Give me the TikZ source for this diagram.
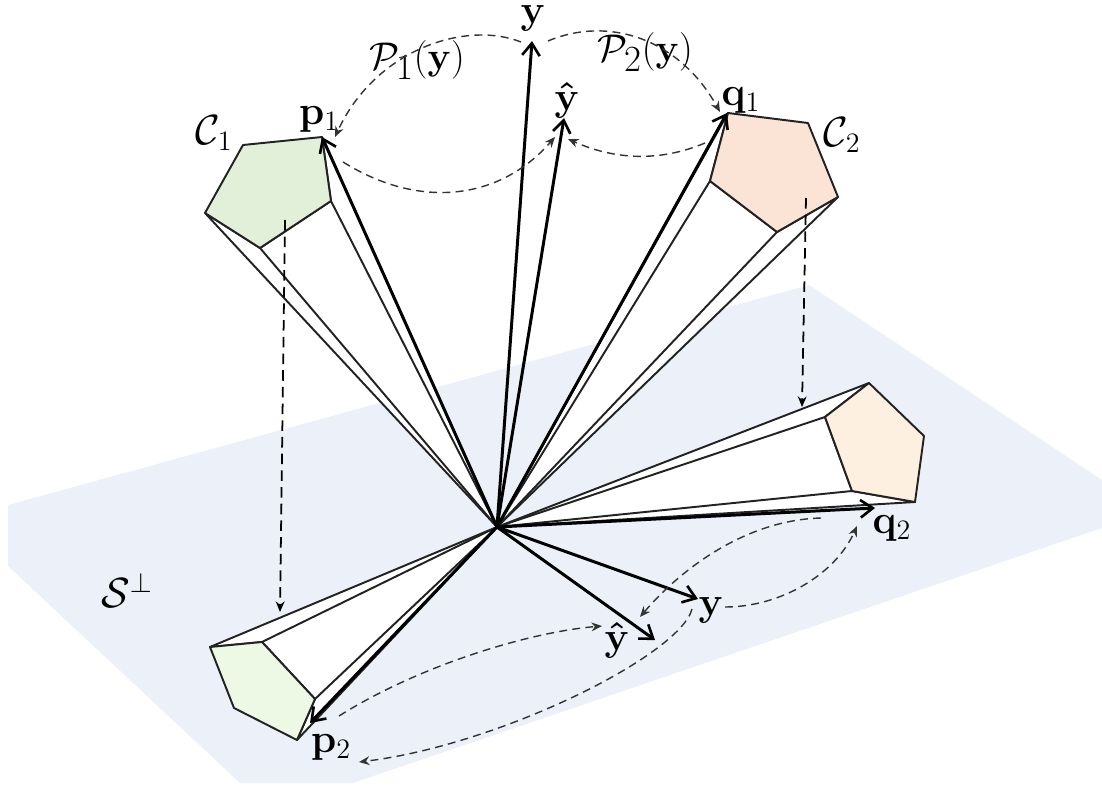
\RequirePackage{fix-cm}
\documentclass[tikz,border=0pt]{standalone}
\usepackage{amsmath}
\usepackage{xcolor}
\usetikzlibrary{arrows.meta}
\DeclareMathSizes{23}{23}{16}{11}
\DeclareMathSizes{24}{24}{16}{12}
\DeclareMathSizes{22}{22}{21}{16}
\definecolor{planeblue}{HTML}{EBF0F9}
\definecolor{upgreen}{HTML}{E2EFD9}
\definecolor{upsalmon}{HTML}{FBE4D5}
\definecolor{lowgreen}{HTML}{EDF9E4}
\definecolor{loworange}{HTML}{FEF0E1}
\definecolor{darkline}{HTML}{222222}
\tikzset{
  cone/.style={draw=darkline, line width=1.1pt, fill=white, line join=round},
  rim/.style={draw=darkline, line width=1.1pt, line join=round},
  vec/.style={-{Straight Barb[length=7pt,width=10pt,line width=1.5pt]}, line width=1.7pt, black},
  proj/.style={-{Stealth[length=6pt,width=5pt]}, dash pattern=on 4.5pt off 3pt, line width=0.8pt, black!80},
  drop/.style={-{Stealth[length=6pt,width=5pt]}, dash pattern=on 6pt off 3.5pt, line width=1.0pt, black},
  lab/.style={inner sep=0pt, font=\fontsize{23}{26}\selectfont},
  callab/.style={inner sep=0pt, font=\fontsize{24}{27}\selectfont},
  projlab/.style={inner sep=0pt, font=\fontsize{22}{25}\selectfont}
}
\begin{document}
\begin{tikzpicture}[x=0.02cm,y=-0.02cm]
\useasboundingbox (0,0) rectangle (1102,787);
\fill[planeblue] (8,505) -- (809,285) -- (1102,480) -- (1102,528) -- (353,783) -- (240,783) -- (8,566) -- cycle;

\coordinate (o) at (497,527);
% upper pentagons
\coordinate (a1) at (243,145); \coordinate (a2) at (322,137); \coordinate (a3) at (331,201);
\coordinate (a4) at (260,248); \coordinate (a5) at (205,213);
\coordinate (b1) at (728,113); \coordinate (b2) at (808,123); \coordinate (b3) at (838,197);
\coordinate (b4) at (777,232); \coordinate (b5) at (710,181);
% lower pentagons
\coordinate (c1) at (210,647); \coordinate (c2) at (262,642); \coordinate (c3) at (315,699);
\coordinate (c4) at (297,740); \coordinate (c5) at (234,708);
\coordinate (d1) at (869,383); \coordinate (d2) at (924,436); \coordinate (d3) at (915,502);
\coordinate (d4) at (852,491); \coordinate (d5) at (825,417);

\path[cone] (o) -- (a5) -- (a4) -- (a3) -- (a2) -- cycle;
\draw[rim] (o) -- (a4) (o) -- (a3);
\path[cone] (o) -- (b1) -- (b5) -- (b4) -- (b3) -- cycle;
\draw[rim] (o) -- (b5) (o) -- (b4);
\path[cone] (o) -- (c1) -- (c2) -- (c3) -- (c4) -- cycle;
\draw[rim] (o) -- (c2) (o) -- (c3);
\path[cone] (o) -- (d1) -- (d5) -- (d4) -- (d3) -- cycle;
\draw[rim] (o) -- (d5) (o) -- (d4);

\draw[rim, fill=upgreen] (a1) -- (a2) -- (a3) -- (a4) -- (a5) -- cycle;
\draw[rim, fill=upsalmon] (b1) -- (b2) -- (b3) -- (b4) -- (b5) -- cycle;
\draw[rim, fill=lowgreen] (c1) -- (c2) -- (c3) -- (c4) -- (c5) -- cycle;
\draw[rim, fill=loworange] (d1) -- (d2) -- (d3) -- (d4) -- (d5) -- cycle;

\coordinate (ytip) at (532,41); \coordinate (hattip) at (564,118);
\coordinate (p1tip) at (322,137); \coordinate (q1tip) at (727,113);
\coordinate (p2tip) at (310,723); \coordinate (q2tip) at (875,508);
\coordinate (ylow) at (698,599); \coordinate (hatlow) at (655,640);

\draw[vec] (o) -- (ytip);
\draw[vec] (o) -- (hattip);
\draw[vec] (o) -- (p1tip);
\draw[vec] (o) -- (q1tip);
\draw[vec] (o) -- (p2tip);
\draw[vec] (o) -- (q2tip);
\draw[vec] (o) -- (ylow);
\draw[vec] (o) -- (hatlow);

\node[lab] (ytop) at (533,18) {$\mathbf{y}$};
\node[lab] (yhat) at (567,100) {$\boldsymbol{\hat{\mathbf{y}}}$};
\node[lab] (p1) at (319,119) {$\mathbf{p}_1$};
\node[lab] (q1) at (741,100) {$\mathbf{q}_1$};
\node[callab] (c1lab) at (214,133) {$\mathcal{C}_1$};
\node[callab] (c2lab) at (842,135) {$\mathcal{C}_2$};
\node[projlab] (proj1) at (417,60) {$\mathcal{P}_1(\mathbf{y})$};
\node[projlab] (proj2) at (645,52) {$\mathcal{P}_2(\mathbf{y})$};
\node[callab] (perp) at (127,590) {$\mathcal{S}^{\perp}$};
\node[lab] (q2) at (892,528) {$\mathbf{q}_2$};
\node[lab] (p2) at (331,747) {$\mathbf{p}_2$};
\node[lab] (ylab) at (711,610) {$\mathbf{y}$};
\node[lab] (yhatlab) at (617,640) {$\boldsymbol{\hat{\mathbf{y}}}$};

% projection arcs
\coordinate (s1) at (521,42); \coordinate (e1) at (335,137);
\coordinate (s2) at (548,41); \coordinate (e2) at (720,112);
\coordinate (s3) at (343,162); \coordinate (e3) at (555,137);
\coordinate (s4) at (705,143); \coordinate (e4) at (568,139);
\coordinate (s5) at (821,518); \coordinate (e5) at (640,617);
\coordinate (s6) at (725,607); \coordinate (e6) at (857,526);
\coordinate (s7) at (692,609); \coordinate (e7) at (359,762);
\coordinate (s8) at (339,716); \coordinate (e8) at (602,626);

\draw[proj] (s1) .. controls (465,20) and (375,50) .. (e1);
\draw[proj] (s2) .. controls (610,15) and (680,40) .. (e2);
\draw[proj] (s3) .. controls (420,210) and (500,200) .. (e3);
\draw[proj] (s4) .. controls (660,162) and (615,160) .. (e4);
\draw[proj] (s5) .. controls (745,520) and (680,570) .. (e5);
\draw[proj] (s6) .. controls (780,607) and (835,575) .. (e6);
\draw[proj] (s7) .. controls (680,655) and (500,745) .. (e7);
\draw[proj] (s8) .. controls (420,665) and (530,632) .. (e8);

\coordinate (t1) at (285,220); \coordinate (u1) at (280,612);
\coordinate (t2) at (806,198); \coordinate (u2) at (802,407);
\draw[drop] (t1) -- (u1);
\draw[drop] (t2) -- (u2);
\end{tikzpicture}
\end{document}
